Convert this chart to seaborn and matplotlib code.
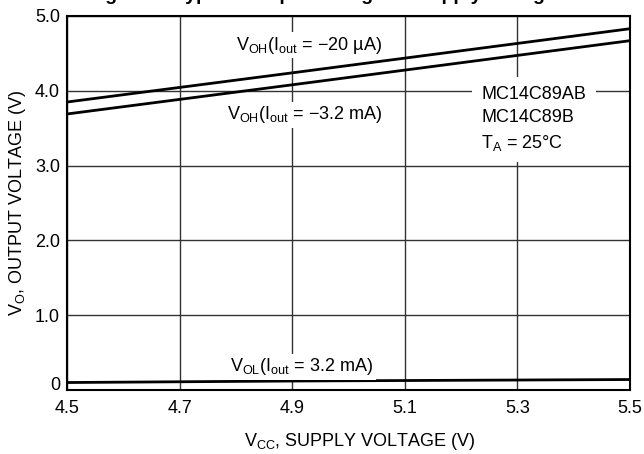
import matplotlib
matplotlib.use('Agg')
import matplotlib.pyplot as plt
import matplotlib.transforms as mtransforms
import seaborn as sns
import pandas as pd

# values
vcc = [4.5, 4.9, 5.5]
voh_20ua = [3.85, 4.24, 4.83]
voh_3ma = [3.69, 4.08, 4.67]
vol_3ma = [0.10, 0.12, 0.14]

x_ticks = [4.5, 4.7, 4.9, 5.1, 5.3, 5.5]
y_ticks = [0, 1, 2, 3, 4, 5]
y_tick_labels = ['0', '1.0', '2.0', '3.0', '4.0', '5.0']

sns.set_theme(style='white')
plt.rcParams['font.family'] = ['Liberation Sans', 'DejaVu Sans']
plt.rcParams['text.color'] = 'black'
plt.rcParams['axes.labelcolor'] = 'black'
plt.rcParams['mathtext.fontset'] = 'custom'
plt.rcParams['mathtext.rm'] = 'Liberation Sans'
plt.rcParams['mathtext.it'] = 'Liberation Sans'

df = pd.DataFrame({'vcc': vcc * 3,
                   'vo': voh_20ua + voh_3ma + vol_3ma,
                   'curve': ['oh20'] * 3 + ['oh3'] * 3 + ['ol3'] * 3})

fs = 13

fig = plt.figure(figsize=(6.44, 4.54), dpi=100)
ax = fig.add_axes([67 / 644, 64 / 454, 563 / 644, 374 / 454])

sns.lineplot(data=df, x='vcc', y='vo', units='curve', estimator=None,
             color='black', linewidth=2, ax=ax, zorder=3)

ax.set_xlim(4.5, 5.5)
ax.set_ylim(0, 5)
ax.set_xticks(x_ticks)
ax.set_xticklabels([f'{t:.1f}' for t in x_ticks])
ax.set_yticks(y_ticks)
ax.set_yticklabels(y_tick_labels)
ax.tick_params(length=0, labelsize=13, colors='black', pad=5)
ax.tick_params(axis='x', pad=7)
ax.grid(True, color='#333333', linewidth=1)
for s in ax.spines.values():
    s.set_color('black')
    s.set_linewidth(1.5)
    s.set_visible(True)

# lift the "0" label a little, as in the reference
zero_lbl = ax.get_yticklabels()[0]
zero_lbl.set_transform(zero_lbl.get_transform() + mtransforms.ScaledTranslation(0, 6 / 100, fig.dpi_scale_trans))

ax.set_xlabel(r'$\mathregular{V_{CC}}$, SUPPLY VOLTAGE (V)', fontsize=fs, labelpad=10)
ax.xaxis.label.set_x(0.52)
ax.set_ylabel(r'$\mathregular{V_{O}}$, OUTPUT VOLTAGE (V)', fontsize=fs, labelpad=5)

box = dict(facecolor='white', edgecolor='none', pad=2)
ax.text(4.8, 4.61, r'$\mathregular{V_{OH}(I_{out}}$ = −20 µA)', fontsize=fs,
        va='center', ha='left', bbox=box, zorder=4)
ax.text(4.785, 3.68, r'$\mathregular{V_{OH}(I_{out}}$ = −3.2 mA)', fontsize=fs,
        va='center', ha='left', bbox=box, zorder=4)
ax.text(4.79, 0.31, r'$\mathregular{V_{OL}(I_{out}}$ = 3.2 mA)', fontsize=fs,
        va='center', ha='left', bbox=box, zorder=4)
ax.text(5.236, 3.62, 'MC14C89AB\nMC14C89B\n' + r'$\mathregular{T_A}$ = 25°C', fontsize=fs,
        va='center', ha='left', linespacing=1.45,
        bbox=dict(facecolor='white', edgecolor='none', pad=7), zorder=4)

# title cut off at the top edge, as in the reference
fig.text(0.5, 1.0 - 4 / 454, 'Figure 5. Typical Output Voltage vs Supply Voltage',
         ha='center', va='bottom', fontsize=14, fontweight='bold')

fig.savefig('out.png', dpi=100)
